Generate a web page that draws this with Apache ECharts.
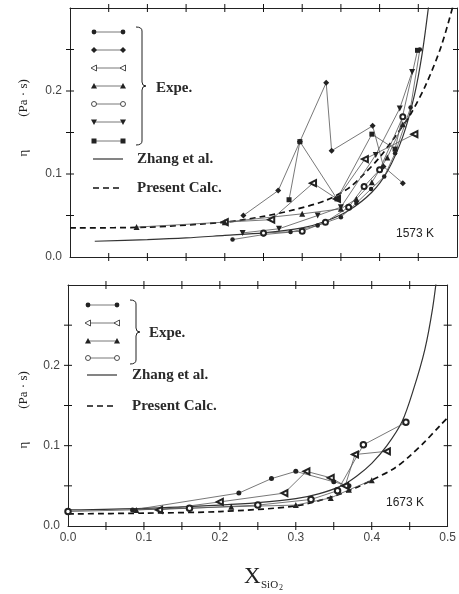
<!DOCTYPE html>
<html>
<head>
    <meta charset="utf-8">
    <title>Viscosity</title>
    <script src="https://cdn.jsdelivr.net/npm/echarts@6/dist/echarts.min.js"></script>
    <style>
        body { margin: 0; background: #fff; }
        #main { width: 459px; height: 594px; }
    </style>
</head>
<body>
    <div id="main"></div>
    <script type="text/javascript">
        // axis ticks (both panels share the same scales)
        var xTicks = [0.0, 0.1, 0.2, 0.3, 0.4, 0.5];
        var yTicks = [0.0, 0.1, 0.2];
        var xTickMarks = [0.05, 0.1, 0.15, 0.2, 0.25, 0.3, 0.35, 0.4, 0.45];
        var yTickMarks = [0.05, 0.1, 0.15, 0.2, 0.25];

        // ---- 1573 K panel ----
        var zhang1573 = [[0.032, 0.019], [0.1, 0.021], [0.15, 0.023], [0.2, 0.026], [0.25, 0.029], [0.3, 0.035],
            [0.33, 0.043], [0.36, 0.056], [0.39, 0.078], [0.41, 0.103], [0.43, 0.145], [0.445, 0.195],
            [0.455, 0.245], [0.463, 0.3], [0.468, 0.34]];
        var calc1573 = [[0.0, 0.035], [0.1, 0.036], [0.2, 0.042], [0.25, 0.049], [0.29, 0.057], [0.33, 0.068],
            [0.36, 0.083], [0.38, 0.1], [0.4, 0.12], [0.42, 0.145], [0.44, 0.172], [0.46, 0.208],
            [0.48, 0.255], [0.497, 0.31]];
        var exp1573_1 = [[0.21, 0.021], [0.25, 0.027], [0.285, 0.03], [0.32, 0.038], [0.35, 0.048], [0.37, 0.065],
            [0.389, 0.082], [0.406, 0.097], [0.42, 0.125], [0.44, 0.18], [0.452, 0.25]];
        var exp1573_2 = [[0.224, 0.05], [0.269, 0.08], [0.297, 0.139], [0.331, 0.21], [0.338, 0.128],
            [0.391, 0.158], [0.405, 0.109], [0.43, 0.089]];
        var exp1573_3 = [[0.2, 0.042], [0.26, 0.045], [0.314, 0.089], [0.345, 0.07], [0.381, 0.118], [0.445, 0.148]];
        var exp1573_4 = [[0.086, 0.036], [0.2, 0.042], [0.3, 0.052], [0.35, 0.058], [0.37, 0.07], [0.39, 0.09],
            [0.41, 0.12], [0.43, 0.16]];
        var exp1573_5 = [[0.25, 0.029], [0.3, 0.031], [0.33, 0.042], [0.36, 0.06], [0.38, 0.085], [0.4, 0.105],
            [0.43, 0.169]];
        var exp1573_6 = [[0.223, 0.029], [0.27, 0.034], [0.32, 0.05], [0.35, 0.06], [0.395, 0.123], [0.426, 0.179],
            [0.442, 0.223]];
        var exp1573_7 = [[0.283, 0.069], [0.297, 0.139], [0.345, 0.07], [0.39, 0.148], [0.42, 0.13], [0.449, 0.249]];

        // ---- 1673 K panel ----
        var zhang1673 = [[0.0, 0.02], [0.1, 0.022], [0.2, 0.026], [0.25, 0.029], [0.3, 0.034], [0.33, 0.04],
            [0.36, 0.05], [0.38, 0.062], [0.4, 0.078], [0.42, 0.1], [0.44, 0.13], [0.455, 0.17], [0.47, 0.22],
            [0.48, 0.27], [0.487, 0.32]];
        var calc1673 = [[0.0, 0.015], [0.1, 0.016], [0.2, 0.018], [0.3, 0.025], [0.35, 0.037], [0.38, 0.048],
            [0.4, 0.057], [0.43, 0.072], [0.45, 0.087], [0.47, 0.105], [0.49, 0.125], [0.5, 0.135]];
        var exp1673_1 = [[0.085, 0.02], [0.225, 0.041], [0.268, 0.059], [0.3, 0.068], [0.35, 0.055], [0.37, 0.05]];
        var exp1673_2 = [[0.12, 0.02], [0.2, 0.03], [0.285, 0.041], [0.314, 0.068], [0.346, 0.06], [0.365, 0.05],
            [0.378, 0.089], [0.42, 0.093]];
        var exp1673_3 = [[0.09, 0.02], [0.215, 0.024], [0.3, 0.026], [0.346, 0.035], [0.37, 0.045], [0.4, 0.057]];
        var exp1673_4 = [[0.0, 0.018], [0.16, 0.022], [0.25, 0.026], [0.32, 0.033], [0.355, 0.044], [0.389, 0.101],
            [0.445, 0.129]];

        var INK = '#222';
        var SERIF = '"Liberation Serif", "DejaVu Serif", serif';
        var SANS = '"Liberation Sans", Arial, sans-serif';
        var X_MIN = 0, X_MAX = 0.5, Y_MIN = 0, Y_MAX = 0.3;
        var TICK_LEN = 8;

        function tickFmt(v) {
            for (var i = 0; i < xTicks.length; i++) {
                if (Math.abs(v - xTicks[i]) < 1e-6) return xTicks[i].toFixed(1);
            }
            return '';
        }
        function yFmt(v) {
            for (var i = 0; i < yTicks.length; i++) {
                if (Math.abs(v - yTicks[i]) < 1e-6) return yTicks[i].toFixed(1);
            }
            return '';
        }

        function xAx(grid, pos, labels) {
            return {
                gridIndex: grid, type: 'value', position: pos, min: X_MIN, max: X_MAX, interval: 0.05,
                axisLine: { show: true, onZero: false, lineStyle: { color: INK, width: 1 } },
                axisTick: { show: false },
                axisLabel: { show: labels, formatter: tickFmt, color: '#444', fontSize: 12, fontFamily: SANS, margin: 6 },
                splitLine: { show: false }
            };
        }
        function yAx(grid, pos, labels) {
            return {
                gridIndex: grid, type: 'value', position: pos, min: Y_MIN, max: Y_MAX, interval: 0.05,
                axisLine: { show: true, onZero: false, lineStyle: { color: INK, width: 1 } },
                axisTick: { show: false },
                axisLabel: { show: labels, formatter: yFmt, color: '#444', fontSize: 12, fontFamily: SANS, margin: 8 },
                splitLine: { show: false }
            };
        }

        // tick marks on all four sides, drawn as short bars placed through the axes
        function ticks(grid, vals, isX, side) {
            var data = vals.map(function (v) {
                if (isX) return [v, side ? Y_MAX : Y_MIN];
                return [side ? X_MAX : X_MIN, v];
            });
            return {
                type: 'scatter', xAxisIndex: grid * 2, yAxisIndex: grid * 2, data: data, silent: true, clip: false,
                symbol: 'rect', symbolSize: isX ? [1, TICK_LEN] : [TICK_LEN, 1],
                itemStyle: { color: '#111', opacity: 1 }, z: 1
            };
        }

        function curve(data, grid, dashed) {
            return {
                type: 'line', xAxisIndex: grid * 2, yAxisIndex: grid * 2, data: data,
                showSymbol: false, smooth: 0.3, clip: true, silent: true,
                lineStyle: dashed ? { color: '#111', width: 1.7, type: [6, 4] } : { color: '#333', width: 1.2 }
            };
        }
        function exp(data, grid, symbol, rot, size) {
            return {
                type: 'line', xAxisIndex: grid * 2, yAxisIndex: grid * 2, data: data,
                symbol: symbol, symbolSize: size || 5, symbolRotate: rot || 0, showSymbol: true,
                clip: true, silent: true,
                lineStyle: { color: '#555', width: 0.8 },
                itemStyle: { color: INK, borderWidth: 0.8 }
            };
        }

        // legend samples drawn as graphics
        function mark(kind, cx, cy) {
            var s = 5, h = s / 2;
            var fill = { fill: INK };
            if (kind === 'circle') return { type: 'circle', shape: { cx: cx, cy: cy, r: 2.4 }, style: fill };
            if (kind === 'emptyCircle') return { type: 'circle', shape: { cx: cx, cy: cy, r: 2.5 }, style: { fill: '#fff', stroke: INK, lineWidth: 0.8 } };
            if (kind === 'rect') return { type: 'rect', shape: { x: cx - h, y: cy - h, width: s, height: s }, style: fill };
            if (kind === 'diamond') return { type: 'polygon', shape: { points: [[cx, cy - 3], [cx + 3, cy], [cx, cy + 3], [cx - 3, cy]] }, style: fill };
            if (kind === 'triUp') return { type: 'polygon', shape: { points: [[cx, cy - 3], [cx + 3, cy + 2.5], [cx - 3, cy + 2.5]] }, style: fill };
            if (kind === 'triDown') return { type: 'polygon', shape: { points: [[cx, cy + 3], [cx + 3, cy - 2.5], [cx - 3, cy - 2.5]] }, style: fill };
            if (kind === 'triLeft') return { type: 'polygon', shape: { points: [[cx - 3, cy], [cx + 2.5, cy - 3], [cx + 2.5, cy + 3]] }, style: { fill: '#fff', stroke: INK, lineWidth: 0.8 } };
        }
        function sample(kind, x0, x1, y) {
            return [
                { type: 'line', shape: { x1: x0, y1: y, x2: x1, y2: y }, style: { stroke: '#555', lineWidth: 0.8 } },
                mark(kind, x0, y), mark(kind, x1, y)
            ];
        }
        function brace(x, y0, y1, w) {
            var m = (y0 + y1) / 2, r = 4, xx = x + w;
            var st = { stroke: INK, lineWidth: 1, fill: null };
            return [
                { type: 'bezierCurve', shape: { x1: x, y1: y0, x2: xx, y2: y0 + r, cpx1: xx, cpy1: y0 }, style: st },
                { type: 'line', shape: { x1: xx, y1: y0 + r, x2: xx, y2: m - r }, style: st },
                { type: 'bezierCurve', shape: { x1: xx, y1: m - r, x2: xx + 4, y2: m, cpx1: xx, cpy1: m }, style: st },
                { type: 'bezierCurve', shape: { x1: xx + 4, y1: m, x2: xx, y2: m + r, cpx1: xx, cpy1: m }, style: st },
                { type: 'line', shape: { x1: xx, y1: m + r, x2: xx, y2: y1 - r }, style: st },
                { type: 'bezierCurve', shape: { x1: xx, y1: y1 - r, x2: x, y2: y1, cpx1: xx, cpy1: y1 }, style: st }
            ];
        }
        function txt(s, x, y, size, family, extra) {
            var o = { type: 'text', x: x, y: y, style: { text: s, fill: INK, font: size + 'px ' + family, textVerticalAlign: 'middle' } };
            if (extra) for (var k in extra) o.style[k] = extra[k];
            return o;
        }
        function vtxt(s, x, y, size) {
            var o = txt(s, x, y, size, SERIF, { textAlign: 'center' });
            o.rotation = Math.PI / 2;
            return o;
        }

        var LEG = 'bold 15px ' + SERIF;
        function leg(s, x, y) {
            return { type: 'text', x: x, y: y, style: { text: s, fill: '#2a2a2a', font: LEG, textVerticalAlign: 'middle' } };
        }

        var g = [];
        // top legend
        var topKinds = ['circle', 'diamond', 'triLeft', 'triUp', 'emptyCircle', 'triDown', 'rect'];
        var topYs = [32, 50, 68, 86, 104, 122, 141];
        for (var i = 0; i < topKinds.length; i++) g = g.concat(sample(topKinds[i], 94, 123, topYs[i]));
        g = g.concat(brace(136, 27, 145, 6));
        g.push(leg('Expe.', 156, 88));
        g.push({ type: 'line', shape: { x1: 93, y1: 159, x2: 123, y2: 159 }, style: { stroke: '#333', lineWidth: 1.2 } });
        g.push(leg('Zhang et al.', 137, 159));
        g.push({ type: 'line', shape: { x1: 93, y1: 188, x2: 123, y2: 188 }, style: { stroke: '#111', lineWidth: 1.7, lineDash: [6, 4] } });
        g.push(leg('Present Calc.', 137, 188));
        g.push(txt('1573 K', 396, 234, 12, SANS));
        // bottom legend
        var botKinds = ['circle', 'triLeft', 'triUp', 'emptyCircle'];
        var botYs = [305, 323, 341, 358];
        for (var j = 0; j < botKinds.length; j++) g = g.concat(sample(botKinds[j], 88, 117, botYs[j]));
        g = g.concat(brace(130, 300, 364, 6));
        g.push(leg('Expe.', 149, 333));
        g.push({ type: 'line', shape: { x1: 87, y1: 375, x2: 117, y2: 375 }, style: { stroke: '#333', lineWidth: 1.2 } });
        g.push(leg('Zhang et al.', 132, 375));
        g.push({ type: 'line', shape: { x1: 87, y1: 406, x2: 117, y2: 406 }, style: { stroke: '#111', lineWidth: 1.7, lineDash: [6, 4] } });
        g.push(leg('Present Calc.', 132, 406));
        g.push(txt('1673 K', 386, 503, 12, SANS));
        // axis names
        g.push(vtxt('\u03b7', 24, 153, 13));
        g.push(vtxt('(Pa \u00b7 s)', 24, 98, 13));
        g.push(vtxt('\u03b7', 24, 445, 13));
        g.push(vtxt('(Pa \u00b7 s)', 24, 390, 13));
        g.push(txt('X', 244, 577, 23, SERIF));
        g.push(txt('SiO', 261, 585, 11, SERIF));
        g.push(txt('2', 279, 588, 8, SERIF));

        var series = [];
        for (var p = 0; p < 2; p++) {
            series.push(ticks(p, xTickMarks, true, false), ticks(p, xTickMarks, true, true),
                ticks(p, yTickMarks, false, false), ticks(p, yTickMarks, false, true));
        }
        series = series.concat([
            curve(zhang1573, 0, false), curve(calc1573, 0, true),
            exp(exp1573_1, 0, 'circle', 0, 4.5),
            exp(exp1573_2, 0, 'diamond', 0, 6),
            exp(exp1573_3, 0, 'emptyTriangle', 90, 6),
            exp(exp1573_4, 0, 'triangle', 0, 6),
            exp(exp1573_5, 0, 'emptyCircle', 0, 5),
            exp(exp1573_6, 0, 'triangle', 180, 6),
            exp(exp1573_7, 0, 'rect', 0, 5),
            curve(zhang1673, 1, false), curve(calc1673, 1, true),
            exp(exp1673_1, 1, 'circle', 0, 5),
            exp(exp1673_2, 1, 'emptyTriangle', 90, 6),
            exp(exp1673_3, 1, 'triangle', 0, 6),
            exp(exp1673_4, 1, 'emptyCircle', 0, 5.5)
        ]);

        var option = {
            animation: false,
            backgroundColor: '#fff',
            grid: [
                { left: 70, top: 8, width: 387, height: 249 },
                { left: 68, top: 285, width: 382, height: 241 }
            ],
            xAxis: [xAx(0, 'bottom', false), xAx(0, 'top', false), xAx(1, 'bottom', true), xAx(1, 'top', false)],
            yAxis: [yAx(0, 'left', true), yAx(0, 'right', false), yAx(1, 'left', true), yAx(1, 'right', false)],
            series: series,
            graphic: g
        };
        var myChart = echarts.init(document.getElementById('main'));
        myChart.setOption(option);
    </script>
</body>
</html>
